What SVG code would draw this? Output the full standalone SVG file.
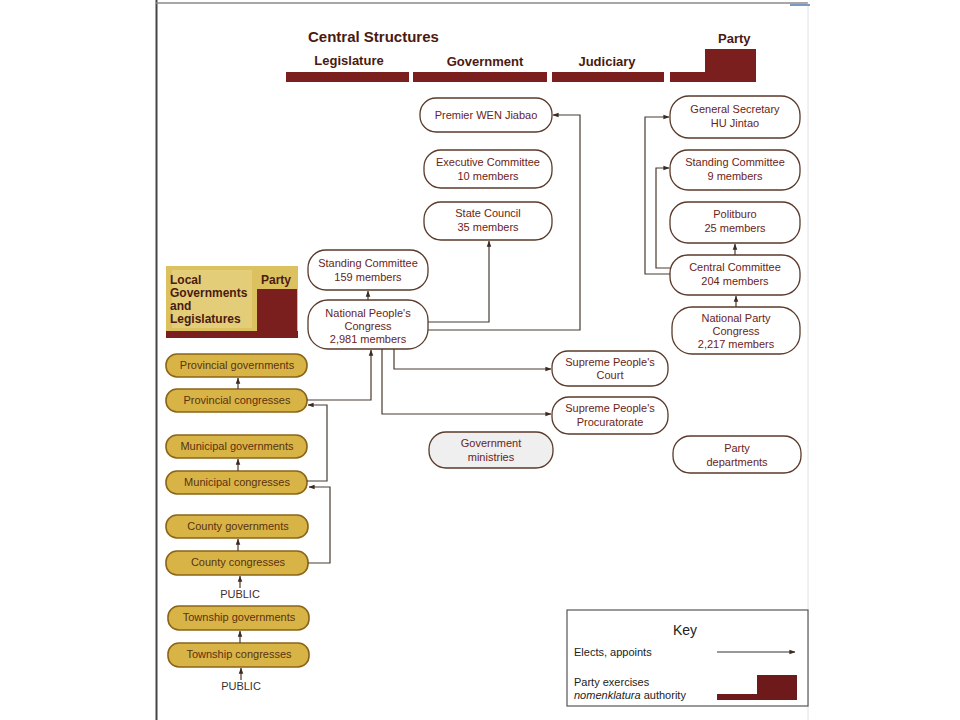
<svg xmlns="http://www.w3.org/2000/svg" width="960" height="720" viewBox="0 0 960 720">
<defs>
<marker id="arr" viewBox="0 0 8 8" refX="7.5" refY="4" markerWidth="6" markerHeight="6" orient="auto" markerUnits="userSpaceOnUse">
<path d="M0,1 L8,4 L0,7 Z" fill="#3a2a22"/>
</marker>
<style>
.node rect{fill:#ffffff;stroke:#5a3a2a;stroke-width:1.3}
.node text{font-family:"Liberation Sans",Arial,sans-serif;font-size:11px;fill:#6a2418;text-anchor:middle}
.gold rect{fill:#d8b447;stroke:#8a6418;stroke-width:1.6}
.gold text{font-family:"Liberation Sans",Arial,sans-serif;font-size:11px;fill:#5a3210;text-anchor:middle}
.hdr{font-family:"Liberation Sans",Arial,sans-serif;font-weight:bold;fill:#4a1a10}
.bar{fill:#7a1e1e}
.conn path{fill:none;stroke:#4a3a30;stroke-width:1.2;marker-end:url(#arr)}
.pub{font-family:"Liberation Sans",Arial,sans-serif;font-size:11px;fill:#3a3030;text-anchor:middle}
</style>
</defs>
<rect width="960" height="720" fill="#ffffff"/>
<!-- page frame -->
<line x1="156.5" y1="0" x2="156.5" y2="720" stroke="#444" stroke-width="2"/>
<line x1="156" y1="3" x2="808" y2="3" stroke="#8a8a8a" stroke-width="1.5"/>
<line x1="808" y1="3" x2="808" y2="720" stroke="#e2e2e2" stroke-width="1"/>
<line x1="790" y1="5" x2="810" y2="5" stroke="#7a9ac0" stroke-width="2"/>

<!-- header -->
<g id="header">
<text class="hdr" x="308" y="42" font-size="15">Central Structures</text>
<text class="hdr" x="718" y="43" font-size="13">Party</text>
<text class="hdr" x="349" y="65" font-size="13" text-anchor="middle">Legislature</text>
<text class="hdr" x="485" y="66" font-size="13" text-anchor="middle">Government</text>
<text class="hdr" x="607" y="66" font-size="13" text-anchor="middle">Judiciary</text>
<rect class="bar" x="286" y="72" width="123" height="10"/>
<rect class="bar" x="413" y="72" width="134" height="10"/>
<rect class="bar" x="552" y="72" width="112" height="10"/>
<path class="bar" d="M670 72 H705 V49 H756 V82 H670 Z"/>
</g>

<!-- local header -->
<g id="local-header">
<rect x="166" y="266" width="132" height="72" fill="#dcc160"/>
<rect x="172" y="270" width="80" height="58" fill="#e8d68a" opacity="0.6"/>
<rect x="257" y="289" width="40" height="49" fill="#7a1e1e"/>
<rect x="166" y="331" width="132" height="7" fill="#7a1e1e"/>
<g class="hdr" font-size="12">
<text x="170" y="284">Local</text>
<text x="170" y="297">Governments</text>
<text x="170" y="310">and</text>
<text x="170" y="323">Legislatures</text>
<text x="261" y="284">Party</text>
</g>
</g>

<!-- central nodes -->
<g id="premier" class="node"><rect x="420" y="98" width="132" height="34" rx="16"/><text x="486" y="119">Premier WEN Jiabao</text></g>
<g id="exec" class="node"><rect x="424" y="150" width="128" height="38" rx="17"/><text x="488" y="166">Executive Committee</text><text x="488" y="180">10 members</text></g>
<g id="statecouncil" class="node"><rect x="424" y="202" width="128" height="38" rx="17"/><text x="488" y="217">State Council</text><text x="488" y="231">35 members</text></g>
<g id="npcsc" class="node"><rect x="308" y="250" width="120" height="40" rx="18"/><text x="368" y="267">Standing Committee</text><text x="368" y="281">159 members</text></g>
<g id="npc" class="node"><rect x="308" y="300" width="120" height="49" rx="20"/><text x="368" y="317">National People's</text><text x="368" y="330">Congress</text><text x="368" y="343">2,981 members</text></g>
<g id="gensec" class="node"><rect x="670" y="96" width="130" height="42" rx="19"/><text x="735" y="113">General Secretary</text><text x="735" y="127">HU Jintao</text></g>
<g id="psc" class="node"><rect x="670" y="150" width="130" height="40" rx="18"/><text x="735" y="166">Standing Committee</text><text x="735" y="180">9 members</text></g>
<g id="politburo" class="node"><rect x="670" y="202" width="130" height="41" rx="18"/><text x="735" y="218">Politburo</text><text x="735" y="232">25 members</text></g>
<g id="cc" class="node"><rect x="670" y="255" width="130" height="40" rx="18"/><text x="735" y="271">Central Committee</text><text x="735" y="285">204 members</text></g>
<g id="npcp" class="node"><rect x="672" y="307" width="128" height="47" rx="20"/><text x="736" y="322">National Party</text><text x="736" y="335">Congress</text><text x="736" y="348">2,217 members</text></g>
<g id="court" class="node"><rect x="552" y="351" width="116" height="35" rx="16"/><text x="610" y="366">Supreme People's</text><text x="610" y="379">Court</text></g>
<g id="proc" class="node"><rect x="552" y="397" width="116" height="37" rx="17"/><text x="610" y="412">Supreme People's</text><text x="610" y="426">Procuratorate</text></g>
<g id="ministries" class="node"><rect x="429" y="432" width="124" height="36" rx="17" style="fill:#efefef"/><text x="491" y="447">Government</text><text x="491" y="461">ministries</text></g>
<g id="partydept" class="node"><rect x="673" y="436" width="128" height="37" rx="17"/><text x="737" y="452">Party</text><text x="737" y="466">departments</text></g>

<!-- local pills -->
<g id="provgov" class="gold"><rect x="166" y="354" width="141" height="23" rx="11"/><text x="237" y="369">Provincial governments</text></g>
<g id="provcong" class="gold"><rect x="166" y="389" width="141" height="23" rx="11"/><text x="237" y="404">Provincial congresses</text></g>
<g id="munigov" class="gold"><rect x="166" y="435" width="141" height="23" rx="11"/><text x="237" y="450">Municipal governments</text></g>
<g id="municong" class="gold"><rect x="166" y="471" width="141" height="23" rx="11"/><text x="237" y="486">Municipal congresses</text></g>
<g id="countygov" class="gold"><rect x="166" y="515" width="142" height="23" rx="11"/><text x="238" y="530">County governments</text></g>
<g id="countycong" class="gold"><rect x="166" y="551" width="142" height="24" rx="11"/><text x="238" y="566">County congresses</text></g>
<g id="towngov" class="gold"><rect x="168" y="606" width="141" height="24" rx="11"/><text x="239" y="621">Township governments</text></g>
<g id="towncong" class="gold"><rect x="168" y="643" width="141" height="24" rx="11"/><text x="239" y="658">Township congresses</text></g>
<text class="pub" x="240" y="598">PUBLIC</text>
<text class="pub" x="241" y="690">PUBLIC</text>

<!-- connectors -->
<g id="connectors" class="conn">
<path d="M238 389 V378"/>
<path d="M238 471 V459"/>
<path d="M238 551 V539"/>
<path d="M240 588 V576"/>
<path d="M240 643 V631"/>
<path d="M241 680 V668"/>
<path d="M307 400 H371 V350"/>
<path d="M307 481 H327 V405 H308"/>
<path d="M308 563 H330 V487 H309"/>
<path d="M368 300 V291"/>
<path d="M428 322 H489 V241"/>
<path d="M428 330 H580 V115 H553"/>
<path d="M394 349 V369 H551"/>
<path d="M382 349 V414 H551"/>
<path d="M670 274 H645 V117 H669"/>
<path d="M670 268 H656 V168 H669"/>
<path d="M735 255 V244"/>
<path d="M736 307 V296"/>
</g>

<!-- key -->
<g id="key">
<rect x="567" y="610" width="241" height="96" fill="#ffffff" stroke="#555" stroke-width="1.2"/>
<text x="685" y="635" font-family="Liberation Sans, Arial, sans-serif" font-size="14" fill="#222" text-anchor="middle">Key</text>
<text x="574" y="656" font-family="Liberation Sans, Arial, sans-serif" font-size="11" fill="#222">Elects, appoints</text>
<path d="M717 652 H795" fill="none" stroke="#333" stroke-width="1.2" marker-end="url(#arr)"/>
<text x="574" y="686" font-family="Liberation Sans, Arial, sans-serif" font-size="11" fill="#222">Party exercises</text>
<text x="574" y="699" font-family="Liberation Sans, Arial, sans-serif" font-size="11" fill="#222"><tspan font-style="italic">nomenklatura</tspan> authority</text>
<path d="M717 694 H757 V675 H797 V700 H717 Z" fill="#6e1a1a"/>
</g>
</svg>
